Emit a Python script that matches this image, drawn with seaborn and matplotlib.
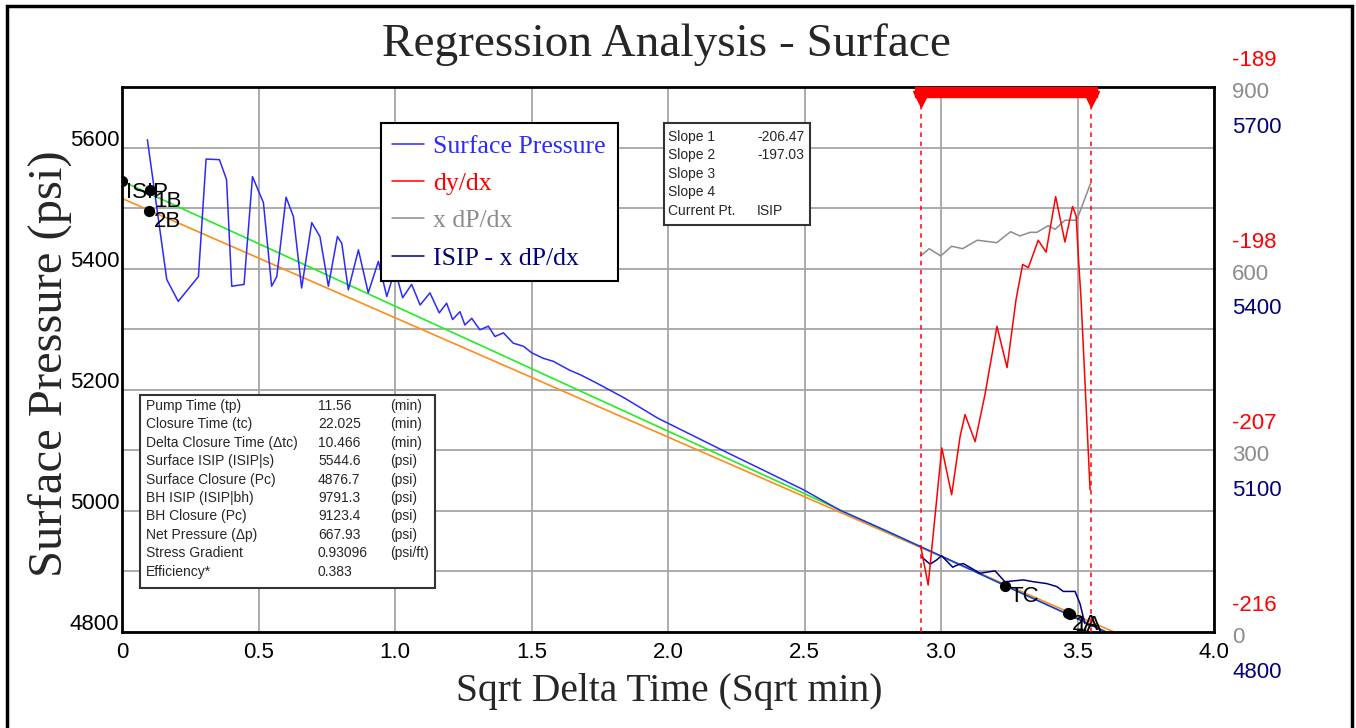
import seaborn as sns
import matplotlib.pyplot as plt
import matplotlib.transforms as mtransforms
from matplotlib.patches import Rectangle
from matplotlib.lines import Line2D

# ---- data ----
surface_x = [0.093, 0.164, 0.206, 0.28, 0.308, 0.357, 0.383, 0.402, 0.447, 0.478,
             0.518, 0.548, 0.567, 0.601, 0.628, 0.658, 0.695, 0.725, 0.756, 0.789,
             0.805, 0.829, 0.866, 0.902, 0.939, 0.97, 1.0, 1.028, 1.061, 1.092,
             1.128, 1.162, 1.189, 1.211, 1.238, 1.256, 1.281, 1.311, 1.342, 1.366,
             1.397, 1.433, 1.47, 1.501, 1.543, 1.58, 1.604, 1.641, 1.678, 1.739,
             1.842, 1.963, 2.2, 2.496, 2.63, 2.8, 2.93, 3.1, 3.3, 3.5, 3.6]
surface_p = [5613, 5382, 5346, 5387, 5581, 5580, 5547, 5371, 5374, 5552,
             5509, 5371, 5387, 5518, 5486, 5368, 5476, 5453, 5371, 5453,
             5442, 5365, 5431, 5360, 5412, 5354, 5398, 5352, 5374, 5340,
             5360, 5327, 5343, 5316, 5329, 5307, 5318, 5299, 5305, 5288,
             5294, 5277, 5272, 5261, 5252, 5247, 5241, 5232, 5225, 5211,
             5186, 5153, 5100, 5035, 5001, 4967, 4940, 4905, 4863, 4822, 4801]

dydx_x = [2.926, 2.953, 3.003, 3.039, 3.070, 3.088, 3.125, 3.161, 3.205, 3.242,
          3.275, 3.299, 3.320, 3.356, 3.385, 3.420, 3.454, 3.482, 3.495, 3.503,
          3.513, 3.527, 3.546]
dydx_y = [-211.77, -213.67, -206.88, -209.20, -206.31, -205.23, -206.57, -204.24,
          -200.86, -202.90, -199.52, -197.79, -197.95, -196.59, -197.18, -194.43,
          -196.68, -194.92, -195.39, -197.37, -199.52, -203.49, -208.95]

xdp_x = [2.925, 2.957, 2.999, 3.039, 3.079, 3.133, 3.204, 3.255, 3.289, 3.326,
         3.351, 3.393, 3.418, 3.454, 3.497, 3.548]
xdp_y = [621, 633, 621, 637, 633, 647, 643, 661, 654, 660,
         660, 671, 665, 680, 680, 741]

isip_x = [2.929, 2.96, 2.984, 3.002, 3.043, 3.062, 3.082, 3.143, 3.198, 3.234,
          3.302, 3.338, 3.387, 3.424, 3.448, 3.491, 3.509, 3.527]
isip_y = [4924, 4912, 4919, 4926, 4907, 4911, 4913, 4897, 4901, 4883,
          4886, 4883, 4880, 4875, 4867, 4867, 4847, 4814]

isip = 5544.6
slope1 = -206.47
slope2 = -197.03
intercept2 = 5516
fit_x = [0.0, 3.7]

marker_names = ["ISIP", "1B", "2B", "TC", "2A", "1A"]
marker_x = [0.0, 0.103, 0.10, 3.234, 3.465, 3.472]
marker_p = [5544.6, 5530, 5496, 4876.7, 4831, 4829]

window = [2.925, 3.548]

x_ticks = [0, 0.5, 1.0, 1.5, 2.0, 2.5, 3.0, 3.5, 4.0]
x_labels = ["0", "0.5", "1.0", "1.5", "2.0", "2.5", "3.0", "3.5", "4.0"]
p_ticks = [4800, 4900, 5000, 5100, 5200, 5300, 5400, 5500, 5600, 5700]
red_ticks = [-216, -207, -198, -189]
gray_ticks = [0, 300, 600, 900]
navy_ticks = [4800, 5100, 5400, 5700]

info_labels = ["Pump Time (tp)", "Closure Time (tc)", "Delta Closure Time (\u0394tc)",
               "Surface ISIP (ISIP|s)", "Surface Closure (Pc)", "BH ISIP (ISIP|bh)",
               "BH Closure (Pc)", "Net Pressure (\u0394p)", "Stress Gradient", "Efficiency*"]
info_values = ["11.56", "22.025", "10.466", "5544.6", "4876.7", "9791.3",
               "9123.4", "667.93", "0.93096", "0.383"]
info_units = ["(min)", "(min)", "(min)", "(psi)", "(psi)", "(psi)",
              "(psi)", "(psi)", "(psi/ft)", ""]

slope_labels = ["Slope 1", "Slope 2", "Slope 3", "Slope 4", "Current Pt."]
slope_values = ["-206.47", "-197.03", "", "", "ISIP"]

BLUE = "#2a2aff"
RED = "#ff0000"
GRAY = "#8c8c8c"
NAVY = "#00007a"
GREEN = "#22ee22"
ORANGE = "#ff8c1a"

sns.set_style("white")
plt.rcParams["font.family"] = ["Liberation Sans", "DejaVu Sans"]
SERIF = ["Liberation Serif", "DejaVu Serif"]

W, H = 1356, 728
fig = plt.figure(figsize=(W / 100, H / 100), dpi=100)


def fx(px):
    return px / W


def fy(py):
    return 1 - py / H


ax = fig.add_axes([fx(122), fy(632), 1092 / W, 545 / H])
ax_gray = ax.twinx()
ax_red = ax.twinx()

# main pressure axis
ax.set_xlim(0, 4)
ax.set_ylim(4800, 5700)
ax.set_xticks(x_ticks, x_labels)
ax.set_yticks(p_ticks, [str(v) if (v - 4800) % 200 == 0 else "" for v in p_ticks])
ax.grid(True, color="#a6a6a6", lw=1.3)
ax.set_axisbelow(True)
ax.tick_params(length=0, labelsize=16, colors="black")
ax.tick_params(axis="x", pad=7)
ax.tick_params(axis="y", pad=2)
for s in ax.spines.values():
    s.set_color("black")
    s.set_linewidth(2)
shift = mtransforms.ScaledTranslation(0, 0.10, fig.dpi_scale_trans)
for lbl in ax.get_yticklabels():
    lbl.set_transform(lbl.get_transform() + shift)

sns.lineplot(x=fit_x, y=[intercept2 + slope2 * v for v in fit_x], ax=ax, color=ORANGE, lw=1.2)
sns.lineplot(x=fit_x, y=[isip + slope1 * v for v in fit_x], ax=ax, color=GREEN, lw=1.2)
sns.lineplot(x=surface_x, y=surface_p, ax=ax, color=BLUE, lw=1.1, sort=False, estimator=None)
sns.lineplot(x=isip_x, y=isip_y, ax=ax, color=NAVY, lw=1.1, sort=False, estimator=None)
ax.scatter(marker_x, marker_p, s=50, color="black", zorder=5)
for name, mx, mp in zip(marker_names, marker_x, marker_p):
    ax.annotate(name, (mx, mp), xytext=(3, -8), textcoords="offset points",
                fontsize=16, ha="left", va="center", color="black")

# secondary scales
ax_gray.set_ylim(0, 900)
ax_red.set_ylim(-216, -189)
for a in (ax_gray, ax_red):
    a.set_yticks([])
    for s in a.spines.values():
        s.set_visible(False)

sns.lineplot(x=xdp_x, y=xdp_y, ax=ax_gray, color=GRAY, lw=1.1, sort=False, estimator=None)
sns.lineplot(x=dydx_x, y=dydx_y, ax=ax_red, color=RED, lw=1.1, sort=False, estimator=None)

# closure window marks
for wx in window:
    ax_red.axvline(wx, color=RED, ls=(0, (3, 3)), lw=1.1)
bar_tr = ax_red.get_xaxis_transform()
ax_red.add_patch(Rectangle((window[0] - 0.02, 0.982), window[1] - window[0] + 0.043, 0.018,
                           transform=bar_tr, color=RED, clip_on=False, zorder=6))
ax_red.plot(window, [0.978, 0.978], "v", color=RED, ms=12, transform=bar_tr,
            clip_on=False, zorder=6)

# right-hand tick labels, three scales stacked
for r, g, n in zip(red_ticks, gray_ticks, navy_ticks):
    ax_red.annotate(str(r), (1, r), xycoords=ax_red.get_yaxis_transform(), xytext=(13, 19),
                    textcoords="offset points", color=RED, fontsize=16, va="center")
    ax_gray.annotate(str(g), (1, g), xycoords=ax_gray.get_yaxis_transform(), xytext=(13, -4),
                     textcoords="offset points", color=GRAY, fontsize=16, va="center")
    ax.annotate(str(n), (1, n), xycoords=ax.get_yaxis_transform(), xytext=(13, -29),
                textcoords="offset points", color=NAVY, fontsize=16, va="center")

# legend
handles = [Line2D([], [], color=c, lw=1.1) for c in (BLUE, RED, GRAY, NAVY)]
names = ["Surface Pressure", "dy/dx", "x dP/dx", "ISIP - x dP/dx"]
leg = ax_red.legend(handles, names, loc="upper left", bbox_to_anchor=(0.237, 0.934),
                    borderaxespad=0, fancybox=False, framealpha=1, edgecolor="black",
                    prop={"family": SERIF, "size": 18.5}, handlelength=1.25,
                    handletextpad=0.35, labelspacing=0.56, borderpad=0.45)
leg.get_frame().set_linewidth(1.5)
for t, c in zip(leg.get_texts(), (BLUE, RED, GRAY, NAVY)):
    t.set_color(c)

# info box
fig.add_artist(Rectangle((fx(140), fy(588)), 295 / W, 193 / H, transform=fig.transFigure,
                         facecolor="white", edgecolor="#333333", lw=1.5))
for i, (lab, val, unit) in enumerate(zip(info_labels, info_values, info_units)):
    y = fy(406 + i * 18.4)
    fig.text(fx(146), y, lab, fontsize=10, va="center")
    fig.text(fx(318), y, val, fontsize=10, va="center")
    fig.text(fx(390), y, unit, fontsize=10, va="center")

# slope box
fig.add_artist(Rectangle((fx(664), fy(225)), 146 / W, 102 / H, transform=fig.transFigure,
                         facecolor="white", edgecolor="#333333", lw=1.5))
for i, (lab, val) in enumerate(zip(slope_labels, slope_values)):
    y = fy(137 + i * 18.4)
    fig.text(fx(668), y, lab, fontsize=10, va="center")
    fig.text(fx(757), y, val, fontsize=10, va="center")

# titles
fig.text(fx(666), fy(45), "Regression Analysis - Surface", family=SERIF, fontsize=34,
         ha="center", va="center")
fig.text(fx(50), fy(364), "Surface Pressure (psi)", family=SERIF, fontsize=35,
         ha="center", va="center", rotation=90)
fig.text(fx(669), fy(692), "Sqrt Delta Time (Sqrt min)", family=SERIF, fontsize=28.5,
         ha="center", va="center")

# outer frame
fig.add_artist(Rectangle((fx(7), -0.02), fx(1352) - fx(7), fy(6) + 0.02,
                         transform=fig.transFigure, fill=False, edgecolor="black", lw=2.5))

fig.savefig("out.png", dpi=100)
